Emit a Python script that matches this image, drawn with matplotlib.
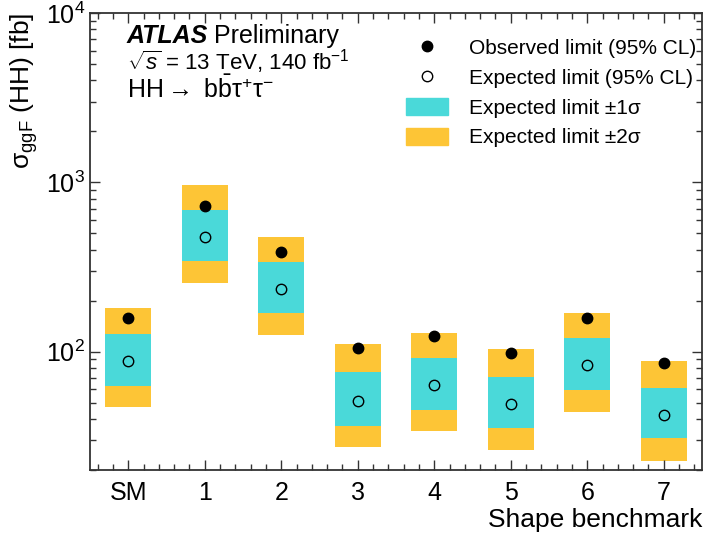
import matplotlib
matplotlib.use("Agg")
import matplotlib.pyplot as plt
import numpy as np
from matplotlib.patches import Patch
from matplotlib.lines import Line2D
from matplotlib.ticker import MultipleLocator, LogLocator, NullFormatter

plt.rcParams['font.family'] = ['Liberation Sans', 'DejaVu Sans']
plt.rcParams['mathtext.fontset'] = 'custom'
plt.rcParams['mathtext.rm'] = 'Liberation Sans'
plt.rcParams['mathtext.it'] = 'Liberation Sans:italic'
plt.rcParams['mathtext.bf'] = 'Liberation Sans:bold'

# data
labels = ['SM', '1', '2', '3', '4', '5', '6', '7']
observed = [159, 724, 387, 105.6, 123, 98.2, 158, 85.3]
expected = [88.1, 475, 235, 51.1, 63.2, 49.2, 83, 42.4]
plus1 = [126.6, 686, 338, 75.5, 91.2, 71.1, 120, 61.2]
minus1 = [62.9, 342, 168.5, 36.5, 45.4, 35.2, 59.6, 30.7]
plus2 = [180, 960, 473, 111.5, 129.5, 104, 170, 88.5]
minus2 = [47.3, 254, 124.8, 27.2, 33.8, 26.4, 44.3, 22.7]

c1 = '#4ad9d9'
c2 = '#fdc536'
w = 0.6

fig = plt.figure(figsize=(7.08, 5.36), dpi=100)
ax = fig.add_axes([90/708, 66/536, 612/708, 457/536])

x = np.arange(len(labels))
ax.bar(x, np.array(plus2) - np.array(minus2), bottom=minus2, width=w, color=c2, zorder=1)
ax.bar(x, np.array(plus1) - np.array(minus1), bottom=minus1, width=w, color=c1, zorder=2)
ax.plot(x, expected, 'o', mfc='none', mec='black', ms=7.5, mew=1.0, zorder=3)
ax.plot(x, observed, 'o', color='black', ms=7.5, zorder=4)

ax.set_yscale('log')
ax.set_ylim(20, 1e4)
ax.set_xlim(-0.5, 7.5)
ax.set_xticks(x)
ax.set_xticklabels(labels)
ax.xaxis.set_minor_locator(MultipleLocator(0.2))
ax.yaxis.set_minor_locator(LogLocator(base=10, subs=np.arange(2, 10)))
ax.yaxis.set_minor_formatter(NullFormatter())

ax.tick_params(which='both', direction='in', top=True, right=True, labelsize=18, color='#333333')
ax.tick_params(which='major', length=7, width=1.0)
ax.tick_params(which='minor', length=4, width=1.0)
ax.tick_params(axis='x', pad=8)
for s in ax.spines.values():
    s.set_linewidth(1.3)
    s.set_color('#333333')

ax.set_xlabel('Shape benchmark', fontsize=19, loc='right', labelpad=2)
ax.set_ylabel('σ$_{\\mathrm{ggF}}$ (HH) [fb]', fontsize=19, loc='top', labelpad=4)

atl = ax.text(0.06, 0.935, 'ATLAS', transform=ax.transAxes, fontsize=18, fontweight='bold',
              fontstyle='italic', va='baseline')
ax.annotate('Preliminary', xy=(1, 0), xycoords=atl, xytext=(4, 0),
            textcoords='offset points', fontsize=18, va='bottom')
ax.text(0.06, 0.875, '$\\sqrt{s}$ = 13 TeV, 140 fb$^{-1}$', transform=ax.transAxes,
        fontsize=16, va='baseline')
ax.text(0.06, 0.815, 'HH$\\rightarrow$ b$\\bar{\\mathrm{b}}$τ$^{+}$τ$^{-}$', transform=ax.transAxes,
        fontsize=18, va='baseline')

handles = [
    Line2D([], [], marker='o', color='black', ls='none', ms=7.5),
    Line2D([], [], marker='o', mfc='none', mec='black', ls='none', ms=7.5, mew=1.0),
    Patch(color=c1),
    Patch(color=c2),
]
leg_labels = ['Observed limit (95% CL)', 'Expected limit (95% CL)',
              'Expected limit ±1σ', 'Expected limit ±2σ']
ax.legend(handles, leg_labels, loc='upper right', bbox_to_anchor=(1.014, 0.977),
          frameon=False, fontsize=15, handlelength=2.0, handleheight=0.9,
          handletextpad=1.0, labelspacing=0.48, borderaxespad=0.3)

fig.savefig('out.png', dpi=100)
